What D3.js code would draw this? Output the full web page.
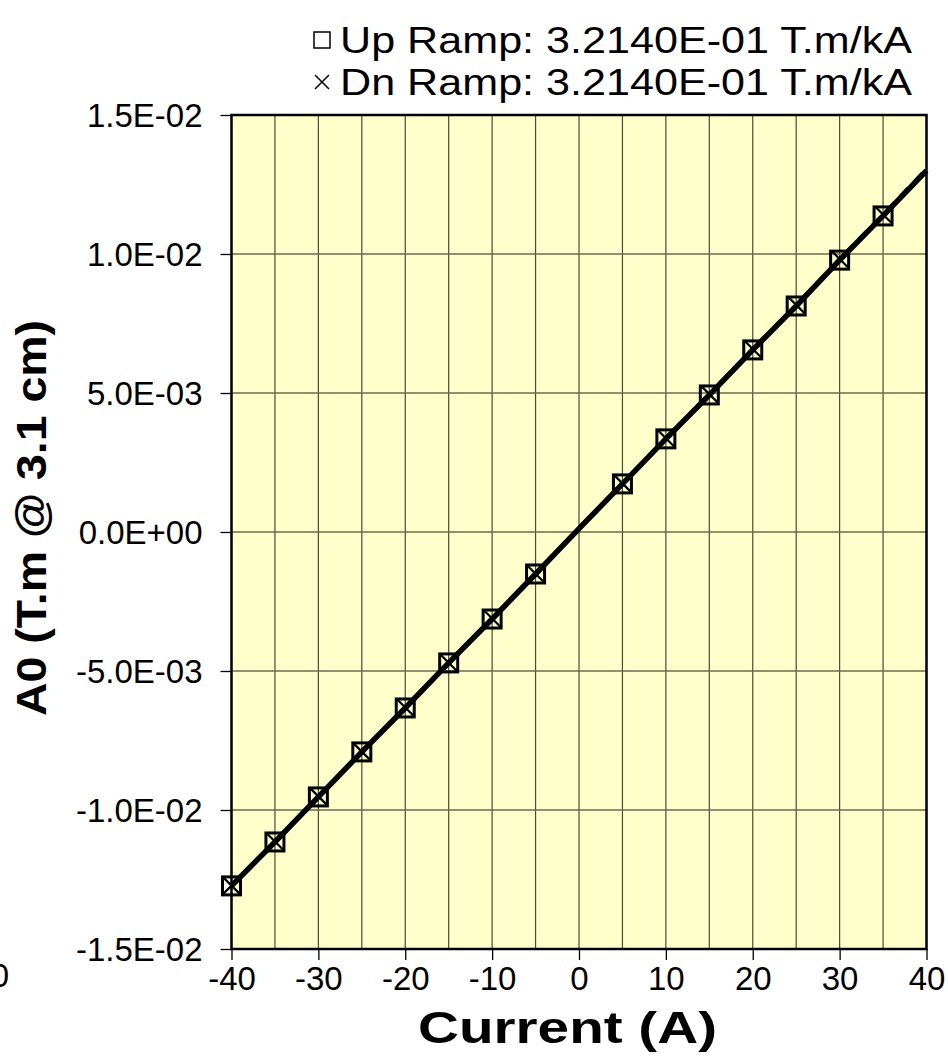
<!DOCTYPE html>
<html>
<head>
<meta charset="utf-8">
<script src="https://cdn.jsdelivr.net/npm/d3@7"></script>
<style>
  body { margin: 0; background: #fff; }
  svg { display: block; font-family: Arial, "Liberation Sans", sans-serif; }
</style>
</head>
<body>
<svg id="chart" width="948" height="1061"></svg>
<script>
/*
    Chart values
 */
var currents = [-40, -35, -30, -25, -20, -15, -10, -5, 0, 5, 10, 15, 20, 25, 30, 35, 40];
var upRamp = [-0.01273, -0.01115, -0.00953, -0.00791, -0.00633, -0.00471, -0.00313, -0.00151,
    0.00012, 0.00173, 0.00335, 0.00493, 0.00655, 0.00813, 0.00978, 0.01137, 0.01300];
var dnRamp = [-0.01272, -0.01113, -0.00951, -0.00790, -0.00631, -0.00470, -0.00311, -0.00150,
    0.00014, 0.00175, 0.00337, 0.00496, 0.00658, 0.00817, 0.00982, 0.01142, 0.01307];
// currents drawn without a marker
var noMarker = [0, 40];

var xTicks = [-40, -30, -20, -10, 0, 10, 20, 30, 40];
var xGrid = d3.range(-40, 41, 5);
var yTicks = [-0.015, -0.01, -0.005, 0, 0.005, 0.01, 0.015];

var legendLabels = ["Up Ramp: 3.2140E-01 T.m/kA", "Dn Ramp: 3.2140E-01 T.m/kA"];
var xTitle = "Current (A)";
var yTitle = "A0 (T.m @ 3.1 cm)";

var plotLeft = 231.5, plotRight = 926.5, plotTop = 115, plotBottom = 949;

var svg = d3.select("#chart");

var x = d3.scaleLinear().domain([-40, 40]).range([plotLeft, plotRight]);
var y = d3.scaleLinear().domain([-0.015, 0.015]).range([plotBottom, plotTop]);

// Excel style scientific label, e.g. -1.5E-02
var sci = function(v){
    if (Math.abs(v) < 1e-12) return "0.0E+00";
    var parts = v.toExponential(1).toUpperCase().split("E");
    var e = parseInt(parts[1], 10);
    var abs = Math.abs(e);
    return parts[0] + "E" + (e < 0 ? "-" : "+") + (abs < 10 ? "0" + abs : abs);
};

/*
    Plot area and grid
 */
svg.append("rect")
    .attr("x", plotLeft).attr("y", plotTop)
    .attr("width", plotRight - plotLeft).attr("height", plotBottom - plotTop)
    .attr("fill", "#FFFFCC");

svg.append("g")
    .selectAll("line")
    .data(xGrid)
    .enter().append("line")
    .attr("x1", function(d){ return x(d); })
    .attr("x2", function(d){ return x(d); })
    .attr("y1", plotTop).attr("y2", plotBottom)
    .attr("stroke", "#4a4a35")
    .attr("stroke-width", 1.2);

svg.append("g")
    .selectAll("line")
    .data(yTicks)
    .enter().append("line")
    .attr("x1", plotLeft).attr("x2", plotRight)
    .attr("y1", function(d){ return y(d); })
    .attr("y2", function(d){ return y(d); })
    .attr("stroke", "#6b6b50")
    .attr("stroke-width", 1.6);

/*
    Axes
 */
var xAxis = svg.append("g")
    .attr("transform", "translate(0," + plotBottom + ")")
    .call(d3.axisBottom(x).tickValues(xTicks).tickSize(11).tickPadding(7)
        .tickFormat(function(d){ return String(d); }));

var yAxis = svg.append("g")
    .attr("transform", "translate(" + plotLeft + ",0)")
    .call(d3.axisLeft(y).tickValues(yTicks).tickSize(11).tickPadding(18).tickFormat(sci));

[xAxis, yAxis].forEach(function(a){
    a.select(".domain").remove();
    a.selectAll(".tick line").attr("stroke", "#000").attr("stroke-width", 1.3);
    a.selectAll(".tick text")
        .attr("fill", "#000")
        .style("font-size", "33px")
        .style("font-family", "Arial, 'Liberation Sans', sans-serif");
});
yAxis.selectAll(".tick text").attr("dy", "0.36em");

svg.append("rect")
    .attr("x", plotLeft).attr("y", plotTop)
    .attr("width", plotRight - plotLeft).attr("height", plotBottom - plotTop)
    .attr("fill", "none")
    .attr("stroke", "#000")
    .attr("stroke-width", 2.5);

// clipped label remnant at the left edge
svg.append("text")
    .attr("x", 9).attr("y", 987)
    .attr("text-anchor", "end")
    .style("font-size", "33px")
    .text("0");

/*
    Lines
 */
var line = d3.line()
    .x(function(d){ return x(d.c); })
    .y(function(d){ return y(d.v); });

var upData = currents.map(function(c, i){ return {c: c, v: upRamp[i]}; });
var dnData = currents.map(function(c, i){ return {c: c, v: dnRamp[i]}; });

svg.append("path")
    .datum(dnData)
    .attr("d", line)
    .attr("fill", "none")
    .attr("stroke", "#000")
    .attr("stroke-width", 3.5)
    .attr("stroke-dasharray", "12,8");

svg.append("path")
    .datum(upData)
    .attr("d", line)
    .attr("fill", "none")
    .attr("stroke", "#000")
    .attr("stroke-width", 5.5);

/*
    Markers
 */
var ms = 18;
var markUp = upData.filter(function(d){ return noMarker.indexOf(d.c) === -1; });
var markDn = dnData.filter(function(d){ return noMarker.indexOf(d.c) === -1; });

svg.append("g")
    .selectAll("rect")
    .data(markUp)
    .enter().append("rect")
    .attr("x", function(d){ return x(d.c) - ms / 2; })
    .attr("y", function(d){ return y(d.v) - ms / 2; })
    .attr("width", ms).attr("height", ms)
    .attr("fill", "none")
    .attr("stroke", "#000")
    .attr("stroke-width", 3);

var cross = function(px, py, h){
    return "M" + (px - h) + "," + (py - h) + "L" + (px + h) + "," + (py + h) +
        "M" + (px - h) + "," + (py + h) + "L" + (px + h) + "," + (py - h);
};

svg.append("g")
    .selectAll("path")
    .data(markDn)
    .enter().append("path")
    .attr("d", function(d){ return cross(x(d.c), y(d.v), ms / 2 - 1); })
    .attr("stroke", "#000")
    .attr("stroke-width", 2.2);

/*
    Legend
 */
var legend = svg.append("g").selectAll("g")
    .data(legendLabels)
    .enter().append("g")
    .attr("transform", function(d, i){ return "translate(313," + (40 + i * 42) + ")"; });

legend.filter(function(d, i){ return i === 0; })
    .append("rect")
    .attr("x", 1).attr("y", -8).attr("width", 16).attr("height", 16)
    .attr("fill", "none").attr("stroke", "#000").attr("stroke-width", 1.5);

legend.filter(function(d, i){ return i === 1; })
    .append("path")
    .attr("d", cross(9, 0, 7))
    .attr("stroke", "#000").attr("stroke-width", 1.5);

legend.append("text")
    .attr("x", 27).attr("dy", "0.36em")
    .attr("textLength", 572).attr("lengthAdjust", "spacingAndGlyphs")
    .style("font-size", "36px")
    .text(function(d){ return d; });

/*
    Axis titles
 */
svg.append("text")
    .attr("x", 418).attr("y", 1043)
    .attr("textLength", 299).attr("lengthAdjust", "spacingAndGlyphs")
    .style("font-size", "45px").style("font-weight", "bold")
    .text(xTitle);

svg.append("text")
    .attr("transform", "translate(46,716) rotate(-90)")
    .attr("textLength", 396).attr("lengthAdjust", "spacingAndGlyphs")
    .style("font-size", "43px").style("font-weight", "bold")
    .text(yTitle);
</script>
</body>
</html>
